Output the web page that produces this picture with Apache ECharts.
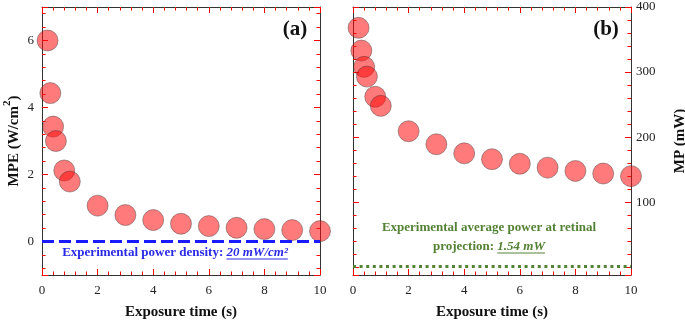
<!DOCTYPE html>
<html>
<head>
<meta charset="utf-8">
<script src="https://cdn.jsdelivr.net/npm/echarts@6/dist/echarts.min.js"></script>
<style>
  html, body { margin: 0; padding: 0; background: #fff; }
  #main { width: 685px; height: 322px; }
</style>
</head>
<body>
<div id="main"></div>
<script>
// exposure times (s), shared by both panels
var timeS = [0.2, 0.3, 0.4, 0.5, 0.8, 1, 2, 3, 4, 5, 6, 7, 8, 9, 10];
// (a) MPE, W/cm2
var mpeDensity = [6.0, 4.43, 3.43, 3.0, 2.12, 1.79, 1.07, 0.79, 0.64, 0.53, 0.46, 0.41, 0.37, 0.34, 0.31];
// (b) MP, mW
var mpPower = [368, 333, 308, 293, 262, 248, 209, 189, 175, 166, 159, 153, 148, 144, 140];
// experimental levels
var expDensity = 0.02;   // 20 mW/cm2 in W/cm2
var expPower = 1.54;     // mW

var serif = '"Liberation Serif", "DejaVu Serif", serif';
var tickColor = 'red';

function pairs(xs, ys) {
	var out = [];
	for (var i = 0; i < xs.length; i++) out.push([xs[i], ys[i]]);
	return out;
}

function textWidth(str, font) {
	var ctx = document.createElement('canvas').getContext('2d');
	ctx.font = font;
	return ctx.measureText(str).width;
}

// box axis helper: main or mirrored side
function boxAxis(extra) {
	var base = {
		type: 'value',
		axisLine: { show: true, onZero: false, lineStyle: { color: '#333', width: 1 } },
		axisTick: { show: true, inside: true, length: 6, lineStyle: { color: tickColor, width: 1 } },
		minorTick: { show: true, splitNumber: 5, length: 3.5, lineStyle: { color: tickColor, width: 1 } },
		splitLine: { show: false },
		minorSplitLine: { show: false },
		axisLabel: { show: false }
	};
	for (var k in extra) {
		if (typeof extra[k] === 'object' && base[k] && !Array.isArray(extra[k])) base[k] = Object.assign({}, base[k], extra[k]);
		else base[k] = extra[k];
	}
	return base;
}

var labelStyle = { show: true, color: '#222', fontFamily: serif, fontSize: 13 };
var nameStyle = { fontFamily: serif, fontWeight: 'bold', fontSize: 15, color: '#111' };

var pointStyle = {
	color: 'rgba(255, 10, 10, 0.68)',
	borderColor: 'rgba(50, 50, 50, 0.65)',
	borderWidth: 0.8
};

var chart = echarts.init(document.getElementById('main'));

var option = {
	animation: false,
	grid: [
		{ left: 42, top: 7, width: 278, height: 268, outerBoundsMode: 'none' },
		{ left: 353, top: 7, width: 278, height: 268, outerBoundsMode: 'none' }
	],
	xAxis: [
		boxAxis({ gridIndex: 0, min: 0, max: 10, interval: 2,
			axisLabel: Object.assign({ margin: 9 }, labelStyle),
			name: 'Exposure time (s)', nameLocation: 'middle', nameGap: 30, nameTextStyle: nameStyle }),
		boxAxis({ gridIndex: 0, position: 'top', min: 0, max: 10, interval: 2 }),
		boxAxis({ gridIndex: 1, min: 0, max: 10, interval: 2,
			axisLabel: Object.assign({ margin: 9 }, labelStyle),
			name: 'Exposure time (s)', nameLocation: 'middle', nameGap: 30, nameTextStyle: nameStyle }),
		boxAxis({ gridIndex: 1, position: 'top', min: 0, max: 10, interval: 2 })
	],
	yAxis: [
		boxAxis({ gridIndex: 0, min: -1, max: 7, splitNumber: 4,
			axisLabel: Object.assign({ margin: 8, showMinLabel: false, showMaxLabel: false }, labelStyle),
			name: '{n|MPE (W/cm}{sup|2}{n|)}', nameLocation: 'middle', nameGap: 20,
			nameTextStyle: {
				fontFamily: serif, fontWeight: 'bold', fontSize: 15, color: '#111',
				rich: {
					n: { fontFamily: serif, fontWeight: 'bold', fontSize: 15, color: '#111', verticalAlign: 'bottom', lineHeight: 20 },
					sup: { fontFamily: serif, fontWeight: 'bold', fontSize: 11, color: '#111', verticalAlign: 'top' }
				}
			} }),
		boxAxis({ gridIndex: 0, position: 'right', min: -1, max: 7, splitNumber: 4 }),
		boxAxis({ gridIndex: 1, position: 'right', min: -12, max: 400, splitNumber: 4,
			axisLabel: Object.assign({ margin: 5, showMinLabel: false,
				formatter: function(v) { return v > 0 ? String(v) : ''; } }, labelStyle),
			name: 'MP (mW)', nameLocation: 'middle', nameGap: 42, nameTextStyle: nameStyle }),
		boxAxis({ gridIndex: 1, position: 'left', min: -12, max: 400, splitNumber: 4 })
	],
	series: [
		{
			name: 'MPE',
			type: 'scatter',
			xAxisIndex: 0,
			yAxisIndex: 0,
			symbolSize: 21,
			itemStyle: pointStyle,
			data: pairs(timeS, mpeDensity),
			markLine: {
				silent: true,
				symbol: 'none',
				label: { show: false },
				lineStyle: { color: '#1a1aff', width: 3, type: [12, 5] },
				data: [{ yAxis: expDensity }]
			}
		},
		{
			name: 'MP',
			type: 'scatter',
			xAxisIndex: 2,
			yAxisIndex: 2,
			symbolSize: 21,
			itemStyle: pointStyle,
			data: pairs(timeS, mpPower),
			markLine: {
				silent: true,
				symbol: 'none',
				label: { show: false },
				lineStyle: { color: '#548235', width: 3, type: [3, 3.6] },
				data: [{ yAxis: expPower }]
			}
		}
	]
};

// annotation texts with underlined italic values
var bFont = 'bold 13px ' + serif;
var iFont = 'italic bold 13px ' + serif;
var blueA = 'Experimental power density: ';
var blueB = '20 mW/cm\u00b2';
var wA = textWidth(blueA, bFont), wB = textWidth(blueB, iFont);
var bx = 175 - (wA + wB) / 2, by = 253;

var gA = 'projection: ';
var gB = '1.54 mW';
var gwA = textWidth(gA, bFont), gwB = textWidth(gB, iFont);
var gx = 489 - (gwA + gwB) / 2, gy = 247;

option.graphic = [
	{ type: 'text', x: 295, y: 30, style: { text: '(a)', font: 'bold 21px ' + serif, fill: '#111', textAlign: 'center', textVerticalAlign: 'middle' } },
	{ type: 'text', x: 606, y: 30, style: { text: '(b)', font: 'bold 21px ' + serif, fill: '#111', textAlign: 'center', textVerticalAlign: 'middle' } },

	{ type: 'text', x: bx, y: by, style: { text: blueA, font: bFont, fill: '#2a2ae6', textAlign: 'left', textVerticalAlign: 'middle' } },
	{ type: 'text', x: bx + wA, y: by, style: { text: blueB, font: iFont, fill: '#2a2ae6', textAlign: 'left', textVerticalAlign: 'middle' } },
	{ type: 'line', shape: { x1: bx + wA, y1: by + 6, x2: bx + wA + wB, y2: by + 6 }, style: { stroke: '#2a2ae6', lineWidth: 1 } },

	{ type: 'text', x: 489, y: 228, style: { text: 'Experimental average power at retinal', font: bFont, fill: '#548235', textAlign: 'center', textVerticalAlign: 'middle' } },
	{ type: 'text', x: gx, y: gy, style: { text: gA, font: bFont, fill: '#548235', textAlign: 'left', textVerticalAlign: 'middle' } },
	{ type: 'text', x: gx + gwA, y: gy, style: { text: gB, font: iFont, fill: '#548235', textAlign: 'left', textVerticalAlign: 'middle' } },
	{ type: 'line', shape: { x1: gx + gwA, y1: gy + 6, x2: gx + gwA + gwB, y2: gy + 6 }, style: { stroke: '#548235', lineWidth: 1 } }
];

chart.setOption(option);
</script>
</body>
</html>
